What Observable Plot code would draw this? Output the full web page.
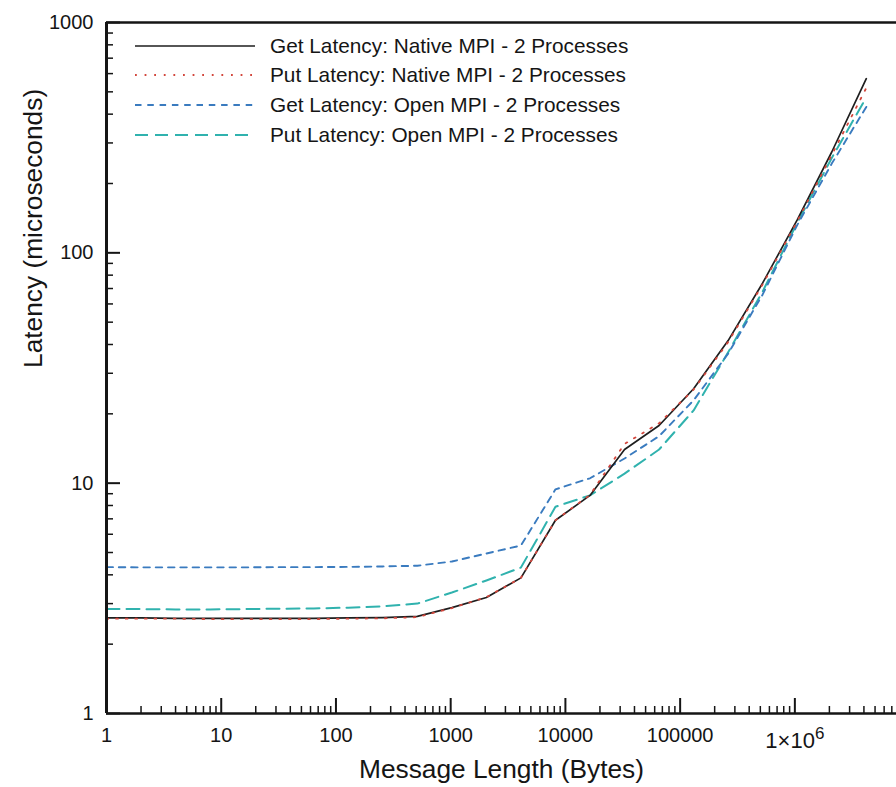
<!DOCTYPE html>
<html>
<head>
<meta charset="utf-8">
<script src="https://cdn.jsdelivr.net/npm/d3@7"></script>
<script src="https://cdn.jsdelivr.net/npm/@observablehq/plot@0.6"></script>
<style>
  html, body { margin: 0; padding: 0; background: #fff; }
  #wrap { position: relative; width: 896px; height: 787px; font-family: "Liberation Sans", Arial, Helvetica, sans-serif; }
  #legend { position: absolute; left: 135px; top: 31px; font-size: 20.8px; color: #151515; }
  #legend .row { display: flex; align-items: center; height: 29.6px; }
  #legend svg { display: block; margin-right: 15px; }
</style>
</head>
<body>
<div id="wrap"><div id="legend"></div></div>
<script>
// Message sizes in bytes (powers of two, 1 B .. 4 MiB)
const bytes = [1, 2, 4, 8, 16, 32, 64, 128, 256, 512, 1024, 2048, 4096, 8192, 16384,
  32768, 65536, 131072, 262144, 524288, 1048576, 2097152, 4194304];

// Latency in microseconds for each message size
const getNative = [2.60, 2.60, 2.59, 2.59, 2.59, 2.59, 2.59, 2.60, 2.61, 2.64, 2.88, 3.19, 3.88,
  6.90, 8.85, 14.0, 17.8, 25.7, 41.6, 74, 139, 274, 570];
const putNative = [2.58, 2.58, 2.58, 2.57, 2.57, 2.57, 2.57, 2.58, 2.59, 2.62, 2.87, 3.20, 3.88,
  6.90, 8.90, 14.8, 18.2, 25.5, 41.0, 73, 137, 266, 520];
const getOpen = [4.32, 4.31, 4.31, 4.31, 4.31, 4.32, 4.32, 4.33, 4.35, 4.38, 4.57, 4.95, 5.36,
  9.4, 10.5, 12.8, 16.0, 22.9, 36.5, 66, 132, 244, 430];
const putOpen = [2.84, 2.84, 2.83, 2.83, 2.84, 2.85, 2.86, 2.88, 2.92, 3.00, 3.35, 3.78, 4.30,
  7.9, 8.85, 11.0, 14.0, 20.7, 37, 68, 135, 258, 473];

const seriesNames = [
  "Get Latency: Native MPI - 2 Processes",
  "Put Latency: Native MPI - 2 Processes",
  "Get Latency: Open MPI - 2 Processes",
  "Put Latency: Open MPI - 2 Processes"
];

// Axis ticks
const xMajor = [1, 10, 100, 1000, 10000, 100000, 1000000];
const yMajor = [1, 10, 100, 1000];
const xLabels = ["1", "10", "100", "1000", "10000", "100000", "1×10⁶"];
const yLabels = ["1", "10", "100", "1000"];
const xLimit = 7.69e6;

// Line styles per series
const styles = [
  {stroke: "#1e1e1e", dash: null, width: 1.7},
  {stroke: "#d2463c", dash: "1.8,7.8", width: 1.8},
  {stroke: "#3a7bbf", dash: "6.5,5.8", width: 1.9},
  {stroke: "#30b2ae", dash: "13,7", width: 2.0}
];

const values = [getNative, putNative, getOpen, putOpen];
const rows = values.map(v => bytes.map((b, i) => ({bytes: b, latency: v[i]})));

const minorOf = (lo, hi) => {
  const out = [];
  for (let d = lo; d < hi; d *= 10) for (let k = 2; k <= 9; k++) if (d * k < hi) out.push(d * k);
  return out;
};
const xMinor = minorOf(1, xLimit);
const yMinor = minorOf(1, 1000);

const W = 896, H = 787, mL = 106, mT = 22, mR = 0, mB = 74;
const innerW = W - mL - mR, innerH = H - mT - mB;
const ink = "#151515";

// Draw order: Open MPI curves underneath, native curves on top
const order = [3, 2, 0, 1];

const chart = Plot.plot({
  width: W, height: H,
  marginLeft: mL, marginTop: mT, marginRight: mR, marginBottom: mB,
  style: {fontFamily: "Liberation Sans, Arial, Helvetica, sans-serif", fontSize: "20px", color: ink, background: "#fff"},
  x: {type: "log", domain: [1, xLimit]},
  y: {type: "log", domain: [1, 1000]},
  marks: [
    ...order.map(s => Plot.line(rows[s], {
      x: "bytes", y: "latency",
      stroke: styles[s].stroke, strokeWidth: styles[s].width,
      strokeDasharray: styles[s].dash, strokeLinejoin: "round"
    })),
    // inward tick marks
    Plot.tickX(xMinor, {x: d => d, insetTop: innerH - 7, stroke: ink, strokeWidth: 1.5}),
    Plot.tickX(xMajor, {x: d => d, insetTop: innerH - 15, stroke: ink, strokeWidth: 2}),
    Plot.tickY(yMinor, {y: d => d, insetRight: innerW - 7, stroke: ink, strokeWidth: 1.5}),
    Plot.tickY(yMajor, {y: d => d, insetRight: innerW - 14, stroke: ink, strokeWidth: 2}),
    // frame: left, bottom and top edges
    Plot.ruleY([1], {stroke: ink, strokeWidth: 2.6}),
    Plot.ruleY([1000], {stroke: ink, strokeWidth: 2.6}),
    Plot.ruleX([1], {stroke: ink, strokeWidth: 3}),
    Plot.axisX(xMajor, {tickSize: 0, tickPadding: 14, label: null, fontSize: 20,
      tickFormat: d => xLabels[xMajor.indexOf(d)]}),
    Plot.axisY(yMajor, {tickSize: 0, tickPadding: 13, label: null, fontSize: 20,
      tickFormat: d => yLabels[yMajor.indexOf(d)]}),
    Plot.text(["Message Length (Bytes)"], {frameAnchor: "bottom", dy: 64, fontSize: 26.3, fill: ink}),
    Plot.text(["Latency (microseconds)"], {frameAnchor: "left", rotate: -90, dx: -73, fontSize: 26.3, fill: ink})
  ]
});

// Typeset the 10^6 tick label with a raised exponent
d3.select(chart).selectAll("text").filter(function() { return this.textContent === "1×10⁶"; })
  .each(function() {
    const t = d3.select(this).text("");
    t.append("tspan").attr("dy", 6).style("font-size", "22px").text("1×10");
    t.append("tspan").attr("dy", -9).style("font-size", "17px").text("6");
  });

const wrap = document.getElementById("wrap");
wrap.insertBefore(chart, wrap.firstChild);

// Legend inside the plot area
const legend = d3.select("#legend");
seriesNames.forEach((name, i) => {
  const row = legend.append("div").attr("class", "row");
  const sw = row.append("svg").attr("width", 120).attr("height", 10);
  sw.append("line").attr("x1", 0).attr("x2", 120).attr("y1", 5).attr("y2", 5)
    .attr("stroke", styles[i].stroke).attr("stroke-width", styles[i].width)
    .attr("stroke-dasharray", styles[i].dash);
  row.append("span").text(name);
});
</script>
</body>
</html>
